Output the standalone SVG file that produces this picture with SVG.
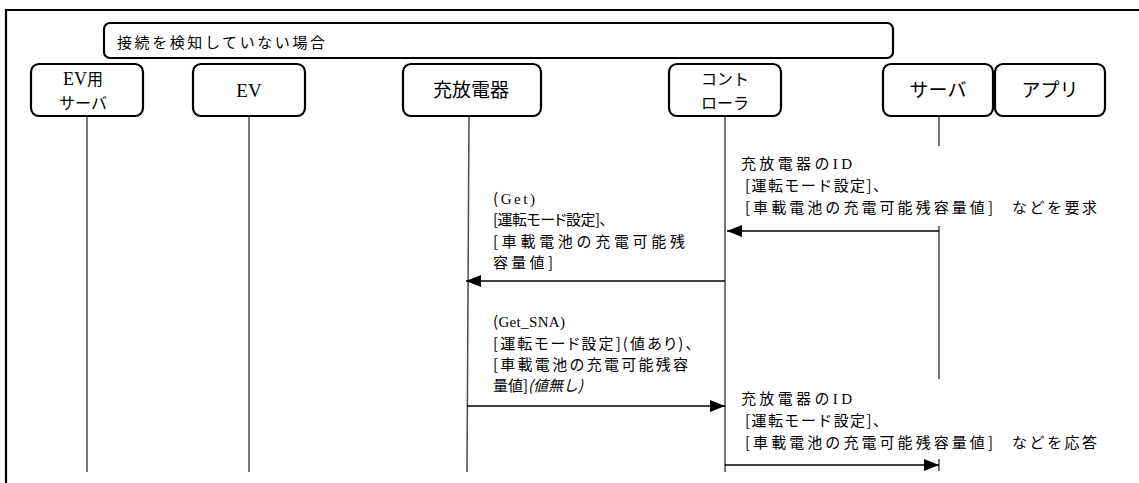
<svg xmlns="http://www.w3.org/2000/svg" width="1139" height="483" viewBox="0 0 1139 483">
<style>
.box{fill:#fff;stroke:#000;stroke-width:2.2}
.life{stroke:#555;stroke-width:1.6;fill:none}
.msg{stroke:#000;stroke-width:1.3;fill:none;marker-end:url(#ah)}
.t{font-family:"Noto Sans CJK JP","Noto Sans CJK SC",sans-serif;font-size:15px;fill:#000}
.p{font-feature-settings:"palt"}
.n{font-family:"Noto Sans CJK JP","Noto Sans CJK SC",sans-serif;font-size:19px;fill:#000;text-anchor:middle}
.n2{font-size:16px}
.i{font-style:italic}
</style>
<defs>
<marker id="ah" viewBox="0 0 15 12" refX="15" refY="6" markerWidth="15" markerHeight="12" markerUnits="userSpaceOnUse" orient="auto">
<path d="M0,0 L15,6 L0,12 z" fill="#000"/>
</marker>
</defs>
<rect width="1139" height="483" fill="#fff"/>
<path d="M6,483 V10 H1139" fill="none" stroke="#000" stroke-width="2.2"/>
<g id="header">
<rect class="box" x="104" y="23" width="789" height="35" rx="6"/>
<text class="t" x="117" y="48" font-size="17" textLength="208" lengthAdjust="spacing">接続を検知していない場合</text>
</g>
<g id="lifelines">
<line class="life" x1="87" y1="116" x2="87" y2="472"/>
<line class="life" x1="249" y1="116" x2="249" y2="472"/>
<line class="life" x1="469" y1="116" x2="467" y2="472"/>
<line class="life" x1="725" y1="116" x2="725" y2="472"/>
<path class="life" d="M939,116 V146 M939,226 V379 M939,459 V471"/>
</g>
<g id="node-evserver">
<rect class="box" x="31" y="64" width="112" height="52" rx="8"/>
<text class="n n2" x="83" y="85"><tspan style="font-family:'Liberation Serif',serif;font-size:18px">EV</tspan>用</text>
<text class="n n2" x="83" y="108.5">サーバ</text>
</g>
<g id="node-ev">
<rect class="box" x="193" y="64" width="112" height="52" rx="8"/>
<text class="n" x="249" y="97" style="font-family:'Liberation Serif',serif">EV</text>
</g>
<g id="node-charger">
<rect class="box" x="403" y="64" width="138" height="52" rx="8"/>
<text class="n" x="471" y="97" font-size="20">充放電器</text>
</g>
<g id="node-controller">
<rect class="box" x="669" y="64" width="112" height="52" rx="8"/>
<text class="n n2" x="725" y="85">コント</text>
<text class="n n2" x="725" y="108.5">ローラ</text>
</g>
<g id="node-server">
<rect class="box" x="883" y="64" width="110" height="52" rx="8"/>
<text class="n" x="938" y="97">サーバ</text>
</g>
<g id="node-app">
<rect class="box" x="995" y="64" width="110" height="52" rx="8"/>
<text class="n" x="1050" y="97">アプリ</text>
</g>
<g id="connectors">
<line class="msg" x1="939" y1="231" x2="727" y2="231"/>
<line class="msg" x1="725" y1="281" x2="466" y2="281"/>
<line class="msg" x1="467" y1="406" x2="725" y2="406"/>
<line class="msg" x1="725" y1="465" x2="939" y2="465"/>
</g>
<g id="label-request">
<text class="t" x="741" y="169" textLength="111" lengthAdjust="spacing">充放電器の<tspan style="font-family:'Liberation Serif',serif">ID</tspan></text>
<text class="t" x="745" y="191" textLength="143" lengthAdjust="spacing">[運転モード設定]、</text>
<text class="t" x="745" y="213" textLength="248" lengthAdjust="spacing">[車載電池の充電可能残容量値]</text>
<text class="t" x="1012" y="213" textLength="85" lengthAdjust="spacing">などを要求</text>
</g>
<g id="label-get">
<text class="t" x="493" y="204" textLength="42" lengthAdjust="spacing">(<tspan style="font-family:'Liberation Serif',serif">Get)</tspan></text>
<text class="t p" x="493" y="225" textLength="114" lengthAdjust="spacing">[運転モード設定]、</text>
<text class="t" x="493" y="247" textLength="192" lengthAdjust="spacing">[車載電池の充電可能残</text>
<text class="t" x="493" y="268" textLength="60" lengthAdjust="spacing">容量値]</text>
</g>
<g id="label-getsna">
<text class="t" x="493" y="327" textLength="72" lengthAdjust="spacing">(<tspan style="font-family:'Liberation Serif',serif">Get_SNA)</tspan></text>
<text class="t p" x="493" y="349" textLength="200" lengthAdjust="spacing">[運転モード設定](値あり)、</text>
<text class="t" x="493" y="370" textLength="195" lengthAdjust="spacing">[車載電池の充電可能残容</text>
<text class="t" x="493" y="391" textLength="90" lengthAdjust="spacing">量値]<tspan class="i">(値無し)</tspan></text>
</g>
<g id="label-response">
<text class="t" x="741" y="404" textLength="111" lengthAdjust="spacing">充放電器の<tspan style="font-family:'Liberation Serif',serif">ID</tspan></text>
<text class="t" x="745" y="426" textLength="143" lengthAdjust="spacing">[運転モード設定]、</text>
<text class="t" x="745" y="448" textLength="248" lengthAdjust="spacing">[車載電池の充電可能残容量値]</text>
<text class="t" x="1012" y="448" textLength="85" lengthAdjust="spacing">などを応答</text>
</g>
</svg>
